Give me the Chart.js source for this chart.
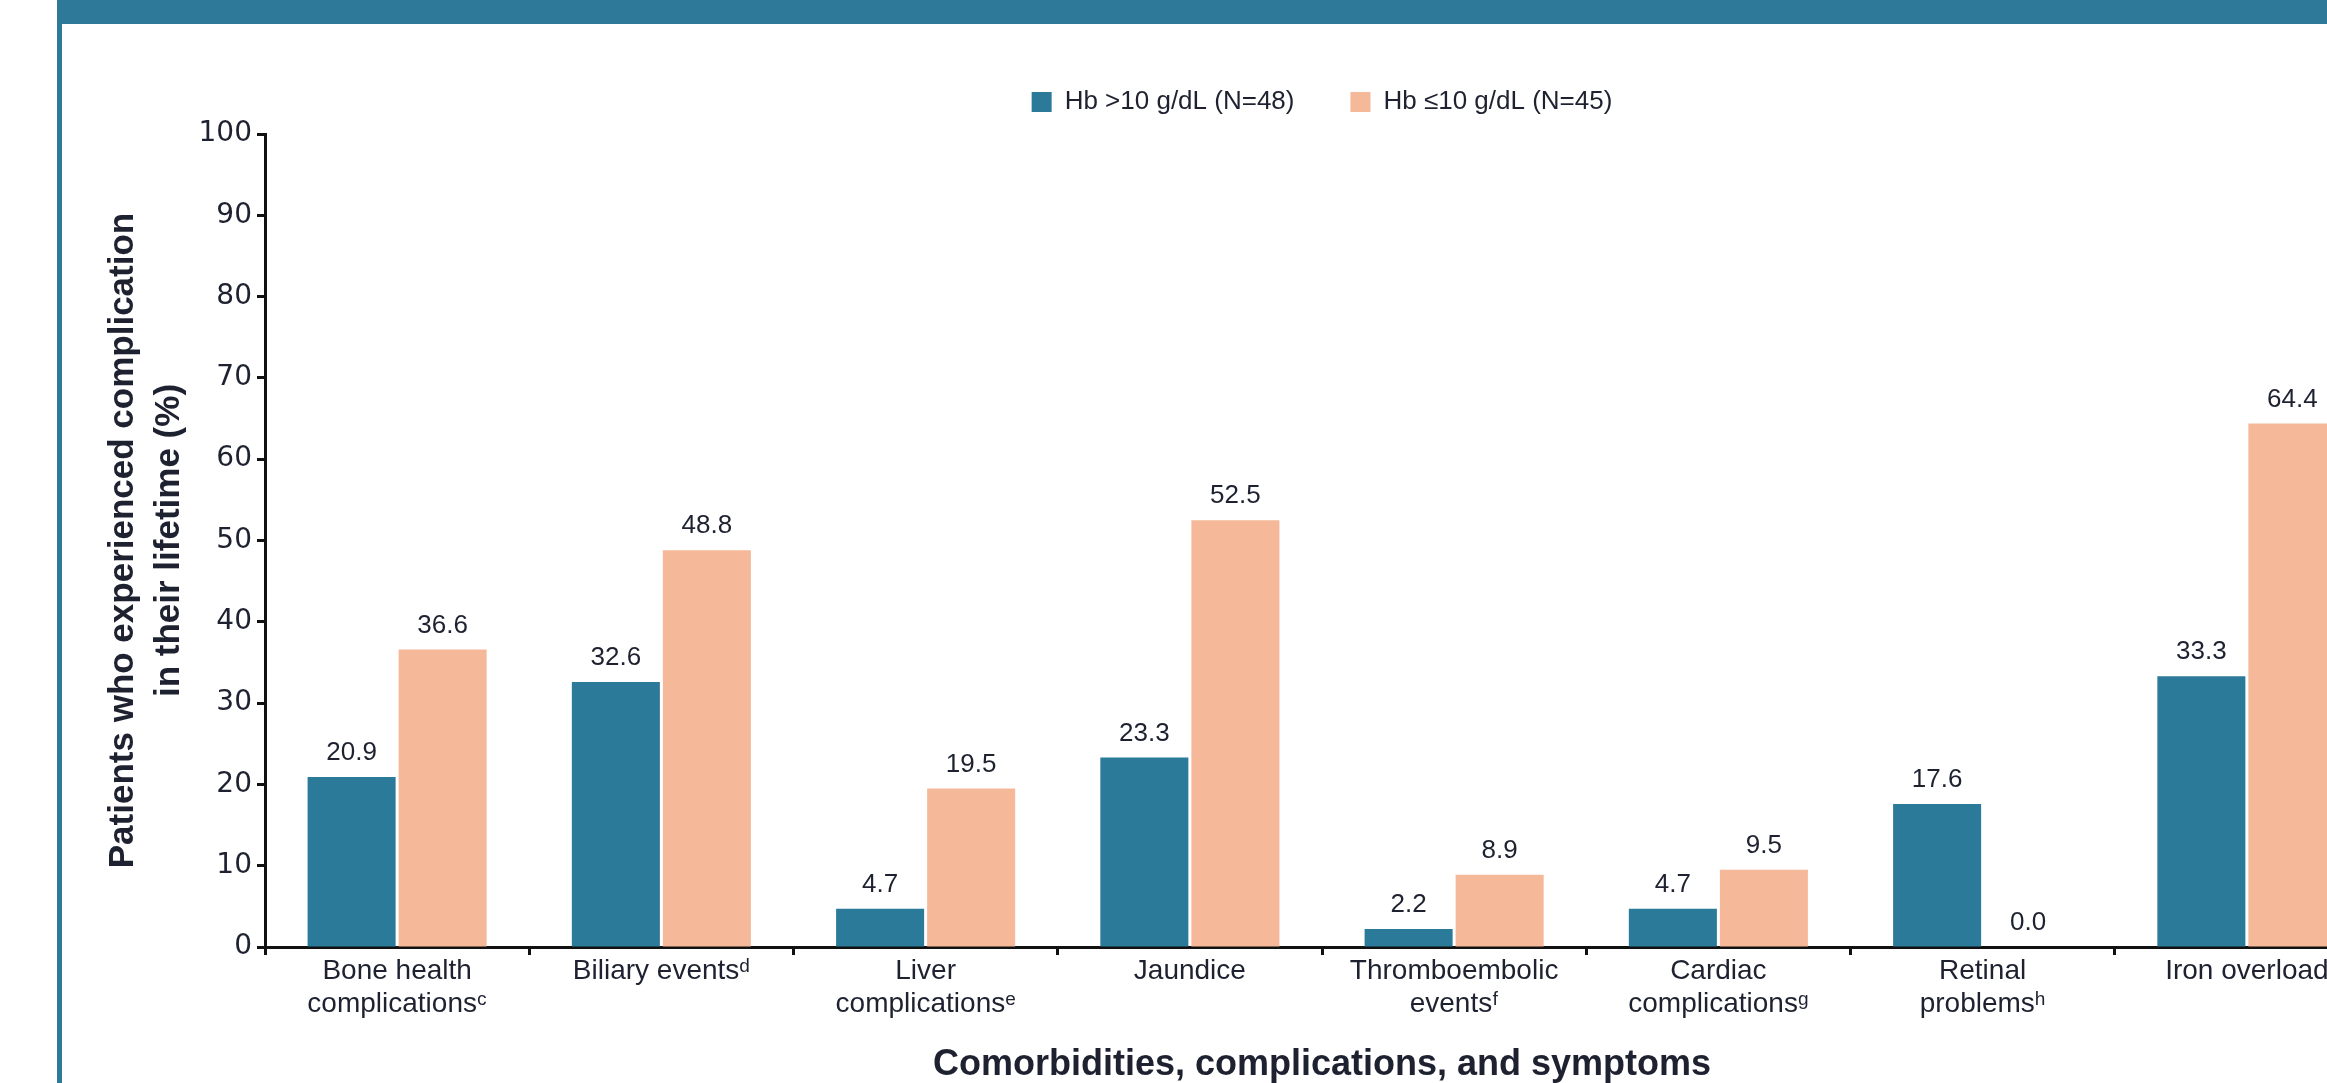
<!DOCTYPE html>
<html>
<head>
<meta charset="utf-8">
<title>Complications by Hb level</title>
<script src="https://cdn.jsdelivr.net/npm/chart.js@4.4.1/dist/chart.umd.min.js"></script>
<style>
    html, body { margin: 0; padding: 0; background: #fff; overflow: hidden; width: 2327px; height: 1083px; }
    #grafico { position: absolute; left: 0; top: 0; }
    #faixaTopo { position: absolute; left: 57px; top: 0; right: 0; height: 24px; background: #2e7899; }
    #faixaEsq { position: absolute; left: 57px; top: 0; bottom: 0; width: 5px; background: #2e7899; }
</style>
</head>
<body>
<canvas id="grafico" width="2400" height="1100"></canvas>
<div id="faixaTopo"></div>
<div id="faixaEsq"></div>
<script>
// categories (x axis)
var categorias = [
    ["Bone health", "complications\u1D9C"],
    "Biliary events\u1D48",
    ["Liver", "complications\u1D49"],
    "Jaundice",
    ["Thromboembolic", "events\u1DA0"],
    ["Cardiac", "complications\u1D4D"],
    ["Retinal", "problems\u02B0"],
    "Iron overload"
];
var nomesSeries = ["Hb >10 g/dL (N=48)", "Hb \u226410 g/dL (N=45)"];
var hbAlto = [20.9, 32.6, 4.7, 23.3, 2.2, 4.7, 17.6, 33.3];
var hbBaixo = [36.6, 48.8, 19.5, 52.5, 8.9, 9.5, 0.0, 64.4];
var ticksY = [0, 10, 20, 30, 40, 50, 60, 70, 80, 90, 100];

var corTexto = "#1e2230";
var corEixo = "#111111";

window.onload = function () {
    init();
};

function init() {
    Chart.defaults.font.family = "'Liberation Sans', Arial, sans-serif";
    Chart.defaults.color = corTexto;
    carregarGrafico();
}

// value printed above each bar
var rotulosValores = {
    id: "rotulosValores",
    afterDatasetsDraw: function (chart) {
        var ctx = chart.ctx;
        ctx.save();
        ctx.font = "26px 'Liberation Sans', Arial, sans-serif";
        ctx.fillStyle = corTexto;
        ctx.textAlign = "center";
        ctx.textBaseline = "middle";
        chart.data.datasets.forEach(function (ds, i) {
            chart.getDatasetMeta(i).data.forEach(function (barra, j) {
                ctx.fillText(ds.data[j].toFixed(1), barra.x, barra.y - 24);
            });
        });
        ctx.restore();
    }
};

function carregarGrafico() {
    var ctx = document.getElementById("grafico");
    var grafico = new Chart(ctx, {
        type: "bar",
        data: {
            labels: categorias,
            datasets: [{
                    label: nomesSeries[0],
                    data: hbAlto,
                    backgroundColor: "#2b7a99",
                    borderWidth: 0
                }, {
                    label: nomesSeries[1],
                    data: hbBaixo,
                    backgroundColor: "#f5b899",
                    borderWidth: 0
                }]
        },
        options: {
            responsive: false,
            animation: false,
            categoryPercentage: 0.689,
            barPercentage: 0.967,
            layout: {padding: {top: 33, right: 21, left: 0, bottom: 0}},
            plugins: {
                legend: {
                    position: "top",
                    fullSize: false,
                    labels: {
                        boxWidth: 20,
                        boxHeight: 20,
                        padding: 56,
                        color: corTexto,
                        font: {size: 26}
                    }
                },
                // empty title used only as a spacer under the legend
                title: {
                    display: true,
                    text: "",
                    weight: 500,
                    padding: 0,
                    font: {size: 9, lineHeight: 1}
                },
                tooltip: {enabled: false}
            },
            scales: {
                x: {
                    grid: {
                        offset: true,
                        drawOnChartArea: false,
                        tickLength: 8,
                        tickWidth: 3,
                        tickColor: corEixo
                    },
                    border: {display: true, color: corEixo, width: 3},
                    ticks: {
                        autoSkip: false,
                        maxRotation: 0,
                        minRotation: 0,
                        padding: 0,
                        color: corTexto,
                        font: {size: 28, lineHeight: 1.18}
                    },
                    title: {
                        display: true,
                        text: "Comorbidities, complications, and symptoms",
                        color: corTexto,
                        font: {size: 36, weight: "bold", lineHeight: 1.2},
                        padding: {top: 0, bottom: 13}
                    },
                    afterFit: function (escala) {
                        escala.height = 1100 - 947;
                    }
                },
                y: {
                    min: 0,
                    max: 100,
                    afterBuildTicks: function (escala) {
                        escala.ticks = ticksY.map(function (v) {
                            return {value: v};
                        });
                    },
                    grid: {
                        drawOnChartArea: false,
                        tickLength: 8,
                        tickWidth: 3,
                        tickColor: corEixo
                    },
                    border: {display: true, color: corEixo, width: 3},
                    ticks: {
                        padding: 5,
                        color: corTexto,
                        font: {family: "'DejaVu Sans', sans-serif", size: 28}
                    },
                    title: {
                        display: true,
                        text: ["Patients who experienced complication", "in their lifetime (%)"],
                        color: corTexto,
                        font: {size: 35, weight: "bold", lineHeight: 1.314},
                        padding: {top: 100, bottom: 0}
                    },
                    afterFit: function (escala) {
                        escala.width = 265;
                    }
                }
            }
        },
        plugins: [rotulosValores]
    });
}
</script>
</body>
</html>
